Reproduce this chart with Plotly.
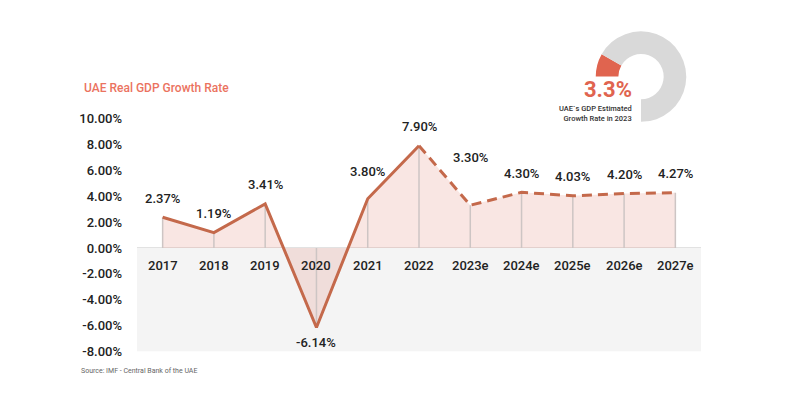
import plotly.graph_objects as go

# ---- data ----
years = ["2017", "2018", "2019", "2020", "2021", "2022",
         "2023e", "2024e", "2025e", "2026e", "2027e"]
growth = [2.37, 1.19, 3.41, -6.14, 3.80, 7.90, 3.30, 4.30, 4.03, 4.20, 4.27]
actual_count = 6  # 2017-2022 actual, rest estimates
y_ticks = [10, 8, 6, 4, 2, 0, -2, -4, -6, -8]
y_tick_labels = ["10.00%", "8.00%", "6.00%", "4.00%", "2.00%", "0.00%",
                 "-2.00%", "-4.00%", "-6.00%", "-8.00%"]
gauge_value = 3.3
gauge_max = 30
gauge_blank = 10

# ---- styles ----
FONT = "Roboto"
LINE_C = "#c4694b"
FILL_C = "rgba(232,150,140,0.24)"
DROP_C = "#cdc5c4"
NEG_BG = "#f4f4f4"
TXT = "#222222"
ACCENT = "#e0644f"
label_offsets = {"2020": -15, "2021": 27, "2023e": 48}
default_offset = 19

W, H = 800, 403
OX, OY = 8, 8  # page body offset compensation
def px_x(p):
    return (p - OX) / W
def px_y(p):
    return (H - (p - OY)) / H

fig = go.Figure()

# area between line and zero
fig.add_trace(go.Scatter(x=years, y=growth, mode="lines", line=dict(width=0),
                         fill="tozeroy", fillcolor=FILL_C, hoverinfo="skip",
                         showlegend=False))
# vertical drop lines
dx, dy = [], []
for yr, v in zip(years, growth):
    dx += [yr, yr, None]
    dy += [0, v, None]
fig.add_trace(go.Scatter(x=dx, y=dy, mode="lines",
                         line=dict(color=DROP_C, width=1.5),
                         hoverinfo="skip", showlegend=False))
# actual (solid) and estimate (dashed) lines
fig.add_trace(go.Scatter(x=years[:actual_count], y=growth[:actual_count],
                         mode="lines", line=dict(color=LINE_C, width=3),
                         showlegend=False))
fig.add_trace(go.Scatter(x=years[actual_count - 1:], y=growth[actual_count - 1:],
                         mode="lines",
                         line=dict(color=LINE_C, width=3, dash="10px,6px"),
                         showlegend=False))
# gauge donut
fig.add_trace(go.Pie(values=[gauge_value, gauge_max - gauge_value, gauge_blank],
                     marker=dict(colors=[ACCENT, "#d9d9d9", "rgba(0,0,0,0)"],
                                 line=dict(width=0)),
                     hole=0.5, sort=False, direction="clockwise", rotation=270,
                     textinfo="none", hoverinfo="skip", showlegend=False,
                     domain=dict(x=[px_x(641 - 47), px_x(641 + 47)],
                                 y=[px_y(72 + 47), px_y(72 - 47)])))

annotations = []
for i, (yr, v) in enumerate(zip(years, growth)):
    off = label_offsets.get(yr, default_offset)
    annotations.append(dict(x=i, y=v, xref="x", yref="y",
                            text=f"{v:.2f}%", showarrow=False,
                            yshift=off, xanchor="center", yanchor="middle",
                            font=dict(family=FONT, size=13, color=TXT, weight=500)))
for i, yr in enumerate(years):
    annotations.append(dict(x=i, y=0, xref="x", yref="y", text=yr,
                            showarrow=False, yshift=-18, yanchor="middle",
                            font=dict(family=FONT, size=13, color=TXT, weight=500)))
annotations += [
    dict(x=px_x(82), y=px_y(84), xref="paper", yref="paper",
         text="UAE Real GDP Growth Rate", showarrow=False,
         xanchor="left", yanchor="middle",
         font=dict(family=FONT, size=12, color="#eb735f", weight=500)),
    dict(x=px_x(79), y=px_y(378), xref="paper", yref="paper",
         text="Source: IMF - Central Bank of the UAE", showarrow=False,
         xanchor="left", yanchor="middle",
         font=dict(family=FONT, size=7, color="#666666")),
    dict(x=px_x(633), y=px_y(85.5), xref="paper", yref="paper",
         text=f"{gauge_value}%", showarrow=False,
         xanchor="right", yanchor="middle", borderpad=0,
         font=dict(family=FONT, size=22, color=ACCENT, weight=700)),
    dict(x=px_x(633), y=px_y(110.2), xref="paper", yref="paper",
         text="UAE`s GDP Estimated<br>Growth Rate in 2023", showarrow=False,
         xanchor="right", yanchor="middle", align="right", borderpad=0,
         font=dict(family=FONT, size=7.5, color="#333333", weight=500)),
]

fig.update_layout(
    width=W, height=H,
    margin=dict(l=0, r=0, t=0, b=0),
    paper_bgcolor="white", plot_bgcolor="white",
    xaxis=dict(domain=[px_x(137), px_x(701)], type="category",
               range=[-0.5, 10.5], visible=False, fixedrange=True),
    yaxis=dict(domain=[px_y(357.6), px_y(115.5)], range=[-8, 10],
               tickvals=y_ticks, ticktext=y_tick_labels, showgrid=False,
               zeroline=True, zerolinecolor="#e2e2e2", zerolinewidth=1,
               showline=False, ticks="", ticklabelstandoff=14,
               tickfont=dict(family=FONT, size=13, color=TXT, weight=500),
               fixedrange=True),
    shapes=[dict(type="rect", xref="x", yref="y", x0=-0.5, x1=10.5,
                 y0=-8, y1=0, fillcolor=NEG_BG, line=dict(width=0),
                 layer="below")],
    annotations=annotations,
    showlegend=False,
)

fig.write_html("out.html")
